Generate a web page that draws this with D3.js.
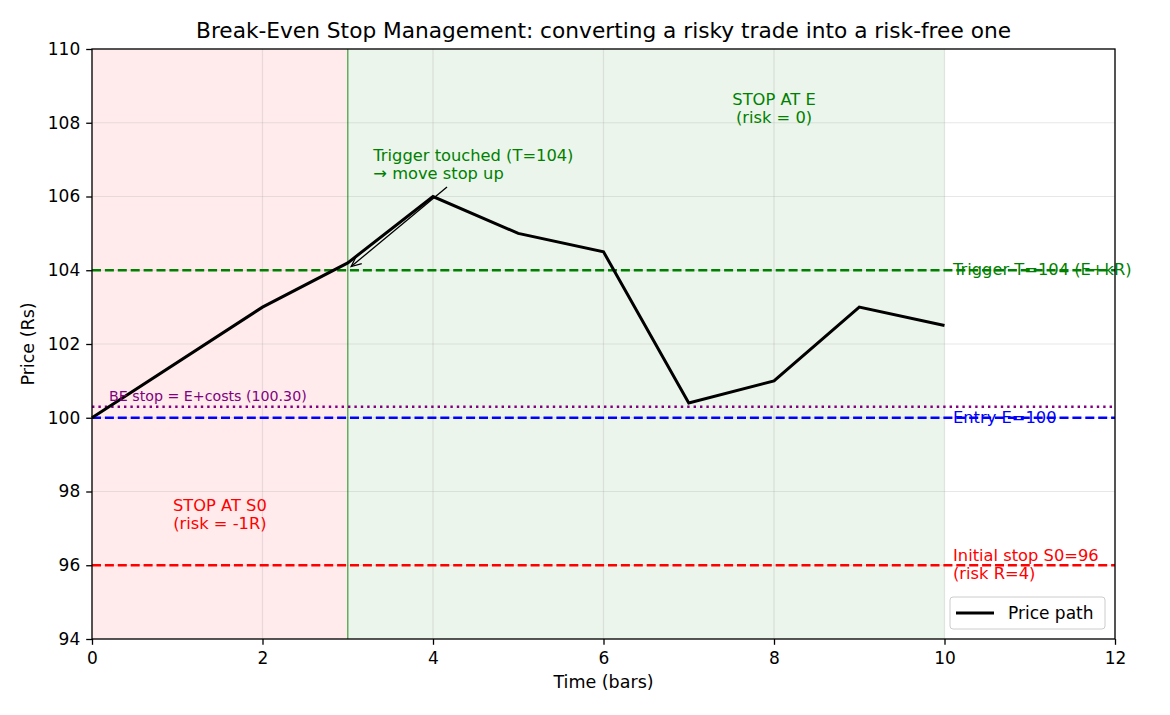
<!DOCTYPE html>
<html><head><meta charset="utf-8">
<script src="https://cdn.jsdelivr.net/npm/d3@7"></script>
<style>body{margin:0;background:#fff}svg{font-family:"DejaVu Sans",sans-serif}</style>
</head><body>
<svg id="c" width="1170" height="715"></svg>
<script>
const times = [0,2,3,4,5,6,7,8,9,10];
const prices = [100,103,104.2,106,105,104.5,100.4,101,103,102.5];
const xTicks = [0,2,4,6,8,10,12];
const yTicks = [94,96,98,100,102,104,106,108,110];
const entry = 100, trigger = 104, beStop = 100.3, initStop = 96, triggerTime = 3, endTime = 10;

const svg = d3.select("#c");
const m = {l:92, r:1115, t:49, b:639};
const x = d3.scaleLinear().domain([0,12]).range([m.l,m.r]);
const y = d3.scaleLinear().domain([94,110]).range([m.b,m.t]);
const FS = 17, AFS = 16.3, LH = 18;

// shaded regions
svg.append("rect").attr("x",x(0)).attr("y",m.t).attr("width",x(triggerTime)-x(0)).attr("height",m.b-m.t).attr("fill","rgb(255,0,0)").attr("fill-opacity",0.08);
svg.append("rect").attr("x",x(triggerTime)).attr("y",m.t).attr("width",x(endTime)-x(triggerTime)).attr("height",m.b-m.t).attr("fill","rgb(0,128,0)").attr("fill-opacity",0.08);

// grid
const g = svg.append("g");
xTicks.forEach(t=>g.append("line").attr("x1",x(t)).attr("x2",x(t)).attr("y1",m.t).attr("y2",m.b).attr("stroke","#b0b0b0").attr("stroke-opacity",0.3).attr("stroke-width",1.2));
yTicks.forEach(t=>g.append("line").attr("y1",y(t)).attr("y2",y(t)).attr("x1",m.l).attr("x2",m.r).attr("stroke","#b0b0b0").attr("stroke-opacity",0.3).attr("stroke-width",1.2));

// vertical trigger line
svg.append("line").attr("x1",x(triggerTime)).attr("x2",x(triggerTime)).attr("y1",m.t).attr("y2",m.b).attr("stroke","green").attr("stroke-opacity",0.6).attr("stroke-width",1.5);

// horizontal lines
function hline(v,color,dash){
  svg.append("line").attr("x1",m.l).attr("x2",m.r).attr("y1",y(v)).attr("y2",y(v)).attr("stroke",color).attr("stroke-width",2.4).attr("stroke-dasharray",dash);
}
hline(trigger,"#008000","9,3.9");
hline(entry,"#0000ff","9,3.9");
hline(initStop,"#ff0000","9,3.9");
hline(beStop,"#800080","2.4,4");

// price path
svg.append("path").datum(times.map((t,i)=>[t,prices[i]]))
  .attr("d",d3.line().x(d=>x(d[0])).y(d=>y(d[1])))
  .attr("fill","none").attr("stroke","#000").attr("stroke-width",3).attr("stroke-linejoin","miter");

// labels
function txt(xx,yy,lines,color,size,anchor){
  const t = svg.append("text").attr("x",xx).attr("y",yy).attr("fill",color).attr("font-size",size).attr("text-anchor",anchor||"start");
  lines.forEach((l,i)=>t.append("tspan").attr("x",xx).attr("dy",i?LH:0).text(l));
}
txt(x(10.1),y(trigger)+5,["Trigger T=104 (E+kR)"],"#008000",AFS);
txt(x(10.1),y(entry)+5,["Entry E=100"],"#0000ff",AFS);
txt(x(10.1),y(initStop)-4,["Initial stop S0=96","(risk R=4)"],"#ff0000",AFS);
txt(x(0.2),y(100.45),["BE stop = E+costs (100.30)"],"#800080",14.2);
txt(x(1.5),y(97.3)-6,["STOP AT S0","(risk = -1R)"],"#ff0000",AFS,"middle");
txt(x(8),y(108.4)-3,["STOP AT E","(risk = 0)"],"#008000",AFS,"middle");
txt(x(3.3),y(106.9)-2,["Trigger touched (T=104)","→ move stop up"],"#008000",AFS);

// annotation arrow
const ax1 = 447, ay1 = 187, ax2 = x(3.04), ay2 = y(104.1);
svg.append("line").attr("x1",ax1).attr("y1",ay1).attr("x2",ax2).attr("y2",ay2).attr("stroke","#000").attr("stroke-width",1.3);
const ang = Math.atan2(ay2-ay1, ax2-ax1);
const hl = 11, hw = 0.42;
const p1 = [ax2 - hl*Math.cos(ang-hw), ay2 - hl*Math.sin(ang-hw)];
const p2 = [ax2 - hl*Math.cos(ang+hw), ay2 - hl*Math.sin(ang+hw)];
svg.append("path").attr("d",`M${p1}L${ax2},${ay2}L${p2}`).attr("fill","none").attr("stroke","#000").attr("stroke-width",1.3);

// axes
const xa = svg.append("g").attr("transform",`translate(0,${m.b})`).call(d3.axisBottom(x).tickValues(xTicks).tickSize(5.8).tickPadding(7.5));
const ya = svg.append("g").attr("transform",`translate(${m.l},0)`).call(d3.axisLeft(y).tickValues(yTicks).tickSize(5.8).tickPadding(6));
[xa,ya].forEach(a=>{a.selectAll("text").attr("font-size",FS).attr("fill","#000").attr("font-family","DejaVu Sans");a.select(".domain").remove();a.selectAll("line").attr("stroke","#000").attr("stroke-width",1.3);});
svg.append("rect").attr("x",m.l).attr("y",m.t).attr("width",m.r-m.l).attr("height",m.b-m.t).attr("fill","none").attr("stroke","#000").attr("stroke-width",1.3);

// titles
svg.append("text").attr("x",(m.l+m.r)/2).attr("y",38).attr("text-anchor","middle").attr("font-size",21.7).text("Break-Even Stop Management: converting a risky trade into a risk-free one");
svg.append("text").attr("x",(m.l+m.r)/2).attr("y",688).attr("text-anchor","middle").attr("font-size",17.5).text("Time (bars)");
svg.append("text").attr("transform",`translate(34,${(m.t+m.b)/2}) rotate(-90)`).attr("text-anchor","middle").attr("font-size",17.5).text("Price (Rs)");

// legend
const lg = svg.append("g");
lg.append("rect").attr("x",950).attr("y",597).attr("width",155).attr("height",32).attr("rx",3).attr("fill","#fff").attr("fill-opacity",0.8).attr("stroke","#ccc");
lg.append("line").attr("x1",956).attr("x2",994).attr("y1",613).attr("y2",613).attr("stroke","#000").attr("stroke-width",3);
lg.append("text").attr("x",1008).attr("y",619).attr("font-size",FS).text("Price path");
</script>
</body></html>
